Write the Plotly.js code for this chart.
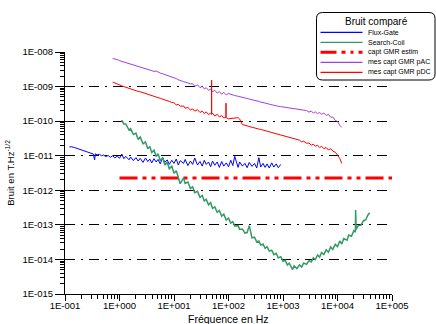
<!DOCTYPE html>
<html><head><meta charset="utf-8">
<script src="https://cdn.plot.ly/plotly-3.0.1.min.js"></script>
<style>html,body{margin:0;padding:0;background:#fff}#chart{width:436px;height:324px}</style>
</head><body><div id="chart"></div>
<script>
// ---------- DATA ----------
const seriesNames = ['Flux-Gate', 'Search-Coil', 'capt GMR estim', 'mes capt GMR pAC', 'mes capt GMR pDC'];

const fluxGateFreq = [0.12,0.13,0.15,0.16,0.18,0.20,0.22,0.24,0.27,0.30,0.33,0.35,0.36,0.39,0.43,0.47,0.51,0.56,0.62,0.68,0.75,0.82,0.91,
  1.0,1.1,1.2,1.3,1.5,1.6,1.8,2.0,2.2,2.4,2.7,3.0,3.3,3.6,3.9,4.3,4.7,5.1,5.6,6.2,6.8,7.5,8.2,9.1,
  10,11,12,13,15,16,18,20,22,24,27,30,33,36,39,43,47,51,56,62,68,75,82,91,
  100,110,120,130,150,160,180,200,220,240,270,300,330,360,390,430,470,510,560,620,680,750,820,910];
const fluxGateNoise = [1.78e-11,1.82e-11,1.72e-11,1.66e-11,1.55e-11,1.50e-11,1.38e-11,1.33e-11,1.24e-11,1.20e-11,1.12e-11,7.6e-12,1.14e-11,1.06e-11,1.10e-11,9.9e-12,1.05e-11,9.4e-12,1.02e-11,9.0e-12,1.00e-11,8.6e-12,9.8e-12,
  8.4e-12,1.12e-11,8.2e-12,9.6e-12,7.6e-12,9.2e-12,7.2e-12,8.8e-12,7.0e-12,8.4e-12,6.4e-12,8.6e-12,6.8e-12,8.0e-12,6.2e-12,8.2e-12,6.6e-12,7.8e-12,5.8e-12,8.8e-12,6.4e-12,7.6e-12,5.6e-12,7.4e-12,
  6.0e-12,8.0e-12,5.4e-12,7.2e-12,6.0e-12,7.8e-12,5.2e-12,7.0e-12,5.6e-12,8.6e-12,5.4e-12,6.8e-12,5.0e-12,7.4e-12,5.6e-12,6.6e-12,4.8e-12,7.0e-12,5.3e-12,6.6e-12,4.6e-12,6.8e-12,5.0e-12,6.2e-12,
  4.8e-12,7.4e-12,5.2e-12,9.6e-12,4.6e-12,6.6e-12,5.0e-12,6.0e-12,4.5e-12,6.4e-12,4.9e-12,6.0e-12,4.4e-12,8.8e-12,4.7e-12,6.0e-12,4.6e-12,5.8e-12,4.4e-12,6.2e-12,4.7e-12,5.8e-12,4.5e-12,5.6e-12];

const searchCoilFreq = [1.1,1.2,1.3,1.5,1.6,1.8,2.0,2.2,2.4,2.7,3.0,3.3,3.6,3.9,4.3,4.7,5.1,5.6,6.2,6.8,7.5,8.2,9.1,
  10,11,12,13,15,16,18,20,22,24,27,30,33,36,39,43,47,51,56,62,68,75,82,91,
  100,110,120,130,150,160,180,200,220,240,270,300,330,360,390,430,470,510,560,620,680,750,820,910,
  1000,1100,1200,1300,1500,1600,1800,2000,2200,2400,2700,3000,3300,3600,3900,4300,4700,5100,5600,6200,6800,7500,8200,9100,
  10000,11000,12000,13000,15000,16000,18000,20000,21000,21300,21500,21700,22000,24000,27000,30000,33000,36000,39000];
const searchCoilNoise = [1.07e-10,8.3e-11,8.3e-11,5.5e-11,6.0e-11,4.1e-11,4.5e-11,2.95e-11,3.5e-11,2.2e-11,2.5e-11,1.58e-11,1.86e-11,1.23e-11,1.45e-11,9.5e-12,1.15e-11,7.2e-12,8.7e-12,5.4e-12,6.5e-12,4.2e-12,5.0e-12,
  3.1e-12,3.7e-12,2.4e-12,1.55e-12,2.3e-12,1.58e-12,1.74e-12,1.12e-12,1.26e-12,8.5e-13,9.3e-13,6.3e-13,7.1e-13,4.9e-13,5.5e-13,3.8e-13,4.4e-13,3.0e-13,3.3e-13,2.3e-13,2.6e-13,1.78e-13,2.04e-13,1.38e-13,
  1.55e-13,1.12e-13,1.23e-13,9.3e-14,9.5e-14,7.4e-14,7.6e-14,5.8e-14,6.0e-14,9.5e-14,4.2e-14,4.4e-14,3.2e-14,3.4e-14,2.6e-14,2.8e-14,2.1e-14,2.35e-14,1.74e-14,1.86e-14,1.38e-14,1.51e-14,1.10e-14,1.20e-14,
  8.9e-15,9.5e-15,6.9e-15,7.8e-15,5.1e-15,6.5e-15,5.4e-15,6.9e-15,6.0e-15,7.9e-15,7.2e-15,9.3e-15,8.5e-15,1.12e-14,9.8e-15,1.35e-14,1.17e-14,1.58e-14,1.38e-14,1.9e-14,1.62e-14,2.3e-14,1.95e-14,2.75e-14,
  2.35e-14,3.4e-14,2.8e-14,4.0e-14,3.6e-14,5.1e-14,4.7e-14,6.8e-14,6.3e-14,6.6e-14,2.7e-13,7.9e-14,7.4e-14,9.5e-14,9.8e-14,1.32e-13,1.41e-13,1.9e-13,2.24e-13];

const gmrEstimFreq = [1, 100000];
const gmrEstimNoise = [2.25e-12, 2.25e-12];

const gmrPacFreq = [0.75,0.82,0.91,
  1.0,1.1,1.2,1.3,1.5,1.6,1.8,2.0,2.2,2.4,2.7,3.0,3.3,3.6,3.9,4.3,4.7,5.1,5.6,6.2,6.8,7.5,8.2,9.1,
  10,11,12,13,15,16,18,20,22,24,27,30,33,36,39,43,47,51,56,62,68,75,82,91,
  100,110,120,130,150,160,180,200,220,240,270,300,330,360,390,430,470,510,560,620,680,750,820,910,
  1000,1100,1200,1300,1500,1600,1800,2000,2200,2400,2700,3000,3300,3600,3900,4300,4700,5100,5600,6200,6800,7500,8200,9100,
  10000,11000,12000];
const gmrPacNoise = [6.46e-9,6.31e-9,6.03e-9,
  5.62e-9,5.37e-9,5.13e-9,4.90e-9,4.57e-9,4.47e-9,4.27e-9,4.07e-9,3.80e-9,3.72e-9,3.47e-9,3.31e-9,3.16e-9,3.02e-9,2.95e-9,2.75e-9,2.82e-9,2.57e-9,2.45e-9,2.34e-9,2.24e-9,2.14e-9,2.04e-9,1.91e-9,
  1.78e-9,1.70e-9,1.58e-9,1.48e-9,1.38e-9,1.35e-9,1.26e-9,1.20e-9,1.20e-9,1.02e-9,1.12e-9,9.3e-10,1.02e-9,8.5e-10,9.3e-10,7.8e-10,8.5e-10,7.1e-10,7.8e-10,6.5e-10,7.2e-10,6.0e-10,6.8e-10,5.75e-10,
  6.3e-10,5.89e-10,5.62e-10,5.50e-10,5.25e-10,5.13e-10,4.90e-10,4.68e-10,4.47e-10,4.27e-10,4.07e-10,3.98e-10,3.80e-10,3.72e-10,3.55e-10,3.47e-10,3.31e-10,3.24e-10,3.09e-10,2.95e-10,2.88e-10,2.75e-10,2.69e-10,2.63e-10,
  2.57e-10,2.51e-10,2.45e-10,2.40e-10,2.29e-10,2.24e-10,2.19e-10,2.09e-10,2.04e-10,2.00e-10,2.02e-10,1.82e-10,1.95e-10,1.72e-10,1.86e-10,1.64e-10,1.80e-10,1.57e-10,1.72e-10,1.46e-10,1.57e-10,1.30e-10,1.32e-10,1.05e-10,
  9.8e-11,7.6e-11,6.6e-11];

const gmrPdcFreq = [0.75,0.82,0.91,
  1.0,1.1,1.2,1.3,1.5,1.6,1.8,2.0,2.2,2.4,2.7,3.0,3.3,3.6,3.9,4.3,4.7,5.1,5.6,6.2,6.8,7.5,8.2,9.1,
  10,11,12,13,15,16,18,20,22,24,27,30,33,36,39,43,47,48.8,49,49.2,51,56,62,68,75,82,89.5,90,90.5,
  100,110,120,130,150,160,170,180,200,220,240,270,300,330,360,390,430,470,510,560,620,680,750,820,910,
  1000,1100,1200,1300,1500,1600,1800,2000,2200,2400,2700,3000,3300,3600,3900,4300,4700,5100,5600,6200,6800,7500,8200,9100,
  10000,11000,12000];
const gmrPdcNoise = [1.35e-9,1.26e-9,1.15e-9,
  1.10e-9,1.05e-9,1.00e-9,9.55e-10,8.71e-10,8.51e-10,7.94e-10,7.59e-10,7.24e-10,7.08e-10,6.61e-10,6.31e-10,6.03e-10,5.75e-10,5.50e-10,5.25e-10,5.01e-10,4.79e-10,4.57e-10,4.37e-10,4.17e-10,3.98e-10,3.72e-10,3.47e-10,
  3.39e-10,2.95e-10,3.09e-10,2.69e-10,2.75e-10,2.37e-10,2.48e-10,2.11e-10,2.26e-10,1.95e-10,2.14e-10,1.78e-10,1.95e-10,1.66e-10,1.86e-10,1.55e-10,1.70e-10,1.58e-10,1.55e-9,1.58e-10,1.70e-10,1.41e-10,1.58e-10,1.32e-10,1.45e-10,1.23e-10,1.29e-10,3.31e-10,1.26e-10,
  1.17e-10,1.20e-10,1.20e-10,1.23e-10,1.26e-10,1.15e-10,8.9e-11,7.9e-11,7.59e-11,7.24e-11,7.08e-11,6.76e-11,6.46e-11,6.17e-11,5.89e-11,5.75e-11,5.50e-11,5.25e-11,5.13e-11,4.90e-11,4.68e-11,4.47e-11,4.27e-11,4.17e-11,3.98e-11,
  3.80e-11,3.63e-11,3.55e-11,3.39e-11,3.16e-11,3.09e-11,2.88e-11,2.82e-11,2.51e-11,2.63e-11,2.29e-11,2.34e-11,2.02e-11,2.16e-11,1.88e-11,2.02e-11,1.72e-11,1.88e-11,1.60e-11,1.72e-11,1.46e-11,1.60e-11,1.36e-11,1.26e-11,
  1.05e-11,8.3e-12,6.0e-12];

const xTickVals = [0.1, 1, 10, 100, 1000, 10000, 100000];
const xTickText = ['1E-001', '1E+000', '1E+001', '1E+002', '1E+003', '1E+004', '1E+005'];
const yTickVals = [1e-15, 1e-14, 1e-13, 1e-12, 1e-11, 1e-10, 1e-9, 1e-8];
const yTickText = ['1E-015', '1E-014', '1E-013', '1E-012', '1E-011', '1E-010', '1E-009', '1E-008'];
const xTitle = 'Fréquence en Hz';
const yTitle = 'Bruit en T.Hz<sup>-1/2</sup>';
const legendTitle = 'Bruit comparé';

// ---------- STYLE ----------
const FONT = 'Liberation Sans, Arial, sans-serif';
const colors = ['#0000ff', '#339966', '#ff0000', '#a040e0', '#ff0000'];
const widths = [1, 1.5, 3, 1, 1];
const dashes = ['solid', 'solid', '18px,5px,4px,5px,4px,5px', 'solid', 'solid'];

function minorVals(e0, e1) {
  const out = [];
  for (let e = e0; e < e1; e++) for (let m = 2; m <= 9; m++) out.push(m * Math.pow(10, e));
  return out;
}

const xs = [fluxGateFreq, searchCoilFreq, gmrEstimFreq, gmrPacFreq, gmrPdcFreq];
const ys = [fluxGateNoise, searchCoilNoise, gmrEstimNoise, gmrPacNoise, gmrPdcNoise];
const order = [0, 2, 1, 3, 4];
const traces = order.map(i => ({
  type: 'scatter', mode: 'lines', x: xs[i], y: ys[i], name: seriesNames[i],
  line: {color: colors[i], width: widths[i], dash: dashes[i]}, hoverinfo: 'skip'
}));
// invisible helper trace so the overlay axis (inner half of major ticks) is drawn
traces.push({type: 'scatter', mode: 'lines', x: gmrEstimFreq, y: gmrEstimNoise, yaxis: 'y2',
  line: {color: 'rgba(0,0,0,0)', width: 0}, hoverinfo: 'skip', showlegend: false});

// plot area in pixels
const PL = 65, PR = 392, PT = 52, PB = 294;
const px = p => (p - PL) / (PR - PL);
const py = p => (PB - p) / (PB - PT);

// legend box (rounded rectangle)
const bx0 = px(316.5), bx1 = px(435), by0 = py(80), by1 = py(12.5);
const rx = 6 / (PR - PL), ry = 6 / (PB - PT);
const boxPath = `M${bx0 + rx},${by1} L${bx1 - rx},${by1} Q${bx1},${by1} ${bx1},${by1 - ry} L${bx1},${by0 + ry} Q${bx1},${by0} ${bx1 - rx},${by0} L${bx0 + rx},${by0} Q${bx0},${by0} ${bx0},${by0 + ry} L${bx0},${by1 - ry} Q${bx0},${by1} ${bx0 + rx},${by1} Z`;

const shapes = [{type: 'path', xref: 'paper', yref: 'paper', path: boxPath,
  fillcolor: '#ffffff', line: {color: '#000000', width: 1}, layer: 'above'}];
const annotations = [
  {xref: 'paper', yref: 'paper', x: px(376.5), y: py(22), text: legendTitle,
   showarrow: false, xanchor: 'center', yanchor: 'middle', font: {family: FONT, size: 10, color: '#000'}},
  {xref: 'paper', yref: 'paper', x: px(229), y: py(318.5), text: xTitle,
   showarrow: false, xanchor: 'center', yanchor: 'middle', font: {family: FONT, size: 10.5, color: '#000'}}
];
seriesNames.forEach((nm, i) => {
  const yy = py(32.3 + 10 * i);
  shapes.push({type: 'line', xref: 'paper', yref: 'paper', x0: px(320.5), x1: px(362.5), y0: yy, y1: yy,
    line: {color: colors[i], width: i === 2 ? 3 : 1.3, dash: i === 2 ? '16px,5px,4px,5px,3px,5px' : 'solid'}, layer: 'above'});
  annotations.push({xref: 'paper', yref: 'paper', x: px(366), y: yy, text: nm, showarrow: false,
    xanchor: 'left', yanchor: 'middle', font: {family: FONT, size: 7, color: '#000'}});
});

const layout = {
  width: 436, height: 324,
  margin: {l: PL, r: 436 - PR, t: PT, b: 324 - PB, pad: 0},
  paper_bgcolor: '#ffffff', plot_bgcolor: '#ffffff',
  font: {family: FONT, size: 9.5, color: '#000'},
  showlegend: false,
  xaxis: {
    type: 'log', range: [-1, 5], tickmode: 'array', tickvals: xTickVals, ticktext: xTickText,
    ticks: 'outside', ticklen: 6, tickcolor: '#000', tickwidth: 1, ticklabelstandoff: -3,
    minor: {tickmode: 'array', tickvals: minorVals(-1, 5), ticks: 'outside', ticklen: 4, tickcolor: '#000', showgrid: false},
    showline: true, linecolor: '#000', linewidth: 1, showgrid: false, zeroline: false,
    tickfont: {family: FONT, size: 9.5}
  },
  yaxis: {
    type: 'log', range: [-15, -8], tickmode: 'array', tickvals: yTickVals, ticktext: yTickText,
    ticks: 'outside', ticklen: 9, tickcolor: '#000', tickwidth: 1,
    minor: {tickmode: 'array', tickvals: minorVals(-15, -8), ticks: 'outside', ticklen: 4, tickcolor: '#000', showgrid: false},
    showline: true, linecolor: '#000', linewidth: 1,
    showgrid: true, gridcolor: '#000', gridwidth: 1, griddash: '10px,6px,2px,6px',
    zeroline: false, tickfont: {family: FONT, size: 9.5},
    title: {text: yTitle, font: {family: FONT, size: 9.5}, standoff: 6}
  },
  yaxis2: {
    type: 'log', range: [-15, -8], overlaying: 'y', side: 'left', tickmode: 'array', tickvals: yTickVals,
    ticks: 'inside', ticklen: 6, tickcolor: '#000', showticklabels: false, showgrid: false,
    showline: false, zeroline: false
  },
  shapes: shapes,
  annotations: annotations
};

Plotly.newPlot('chart', traces, layout, {staticPlot: true, displayModeBar: false});
</script>
</body></html>
